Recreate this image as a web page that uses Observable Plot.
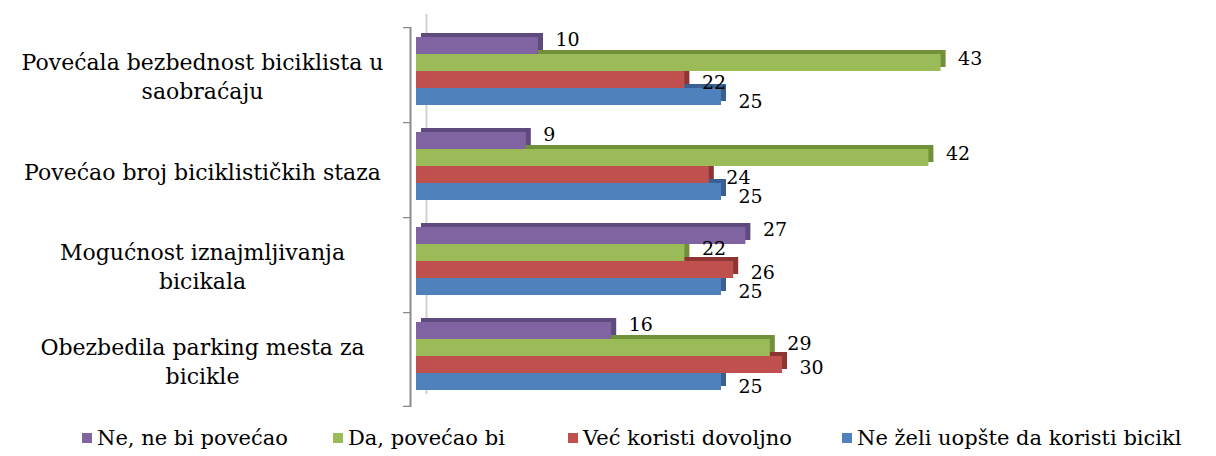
<!DOCTYPE html>
<html>
<head>
<meta charset="utf-8">
<script src="https://cdn.jsdelivr.net/npm/d3@7"></script>
<script src="https://cdn.jsdelivr.net/npm/@observablehq/plot@0.6"></script>
<style>
  body { margin: 0; background: #fff; font-family: "DejaVu Serif", serif; }
  #legend { display: flex; align-items: center; height: 36px; margin-left: 82px; font-size: 21px; color: #000; }
  #legend .item { display: flex; align-items: center; white-space: nowrap; }
  #legend .item:nth-child(1) { width: 251px; }
  #legend .item:nth-child(2) { width: 235px; }
  #legend .item:nth-child(3) { width: 274px; }
  #legend .sw { width: 10px; height: 10px; margin-right: 5px; }
</style>
</head>
<body>
<div id="chart"></div>
<div id="legend"></div>
<script>
const categories = [
  "Povećala bezbednost biciklista u saobraćaju",
  "Povećao broj biciklističkih staza",
  "Mogućnost iznajmljivanja bicikala",
  "Obezbedila parking mesta za bicikle"
];
const categoryLines = [
  "Povećala bezbednost biciklista u\nsaobraćaju",
  "Povećao broj biciklističkih staza",
  "Mogućnost iznajmljivanja\nbicikala",
  "Obezbedila parking mesta za\nbicikle"
];
const series = ["Ne, ne bi povećao", "Da, povećao bi", "Već koristi dovoljno", "Ne želi uopšte da koristi bicikl"];
const neNeBi = [10, 9, 27, 16];
const daPovecaoBi = [43, 42, 22, 29];
const vecKoristi = [22, 24, 26, 30];
const neZeli = [25, 25, 25, 25];
const colors = ["#8064A2", "#9BBB59", "#C0504D", "#4F81BD"];
const sideColors = ["#5E4A7C", "#71903A", "#8E3533", "#3A6091"];
const labelDy = [-6, -4, 3, 5];

const valuesBySeries = [neNeBi, daPovecaoBi, vecKoristi, neZeli];
const rows = [];
categories.forEach((c, i) => {
  series.forEach((s, j) => rows.push({category: c, series: s, value: valuesBySeries[j][i], si: j}));
});

const W = 1216, H = 420, facetH = (H - 25 - 12) / 4;

const marks = [];
// back wall light line and axis line
marks.push(Plot.ruleX(categories, {fy: d => d, x: () => 0, dx: 10, dy: -13, stroke: "#d0d0d0", strokeWidth: 2}));
marks.push(Plot.ruleX(categories, {fy: d => d, x: () => 0, dx: -6, stroke: "#8a8a8a", strokeWidth: 2}));
// tick marks at group boundaries
marks.push(Plot.barX(categories, {fy: d => d, x1: () => 0, x2: () => 0, insetLeft: -13, insetRight: 6, insetBottom: facetH - 2, fill: "#8a8a8a"}));
marks.push(Plot.barX([categories[3]], {fy: d => d, x1: () => 0, x2: () => 0, insetLeft: -13, insetRight: 6, insetTop: facetH - 2, fill: "#8a8a8a"}));
// 3D side/top faces
series.forEach((s, j) => {
  marks.push(Plot.barX(rows.filter(r => r.si === j), {fy: "category", y: "series", x: "value", fill: sideColors[j], dx: 5, dy: -4}));
});
// front faces
series.forEach((s, j) => {
  marks.push(Plot.barX(rows.filter(r => r.si === j), {fy: "category", y: "series", x: "value", fill: colors[j]}));
});
// value labels
series.forEach((s, j) => {
  marks.push(Plot.text(rows.filter(r => r.si === j), {fy: "category", y: "series", x: "value", text: d => String(d.value), textAnchor: "start", dx: 17, dy: labelDy[j], fontSize: 19, fill: "#000"}));
});
// category labels
marks.push(Plot.text(categories, {fy: d => d, frameAnchor: "left", dx: -214, text: d => categoryLines[categories.indexOf(d)], textAnchor: "middle", lineHeight: 1.35, fontSize: 22, fill: "#000"}));

const chart = Plot.plot({
  width: W,
  height: H,
  marginLeft: 416,
  marginRight: W - 416 - 610,
  marginTop: 25,
  marginBottom: 12,
  style: {fontFamily: "DejaVu Serif", background: "#fff"},
  x: {domain: [0, 50], axis: null},
  y: {domain: series, paddingInner: 0, paddingOuter: 0.72, align: 0.36, axis: null},
  fy: {domain: categories, padding: 0, axis: null},
  marks
});
document.getElementById("chart").appendChild(chart);

const legend = document.getElementById("legend");
series.forEach((s, j) => {
  const it = document.createElement("div");
  it.className = "item";
  const sw = document.createElement("span");
  sw.className = "sw";
  sw.style.background = colors[j];
  const tx = document.createElement("span");
  tx.textContent = s;
  it.appendChild(sw); it.appendChild(tx);
  legend.appendChild(it);
});
</script>
</body>
</html>
